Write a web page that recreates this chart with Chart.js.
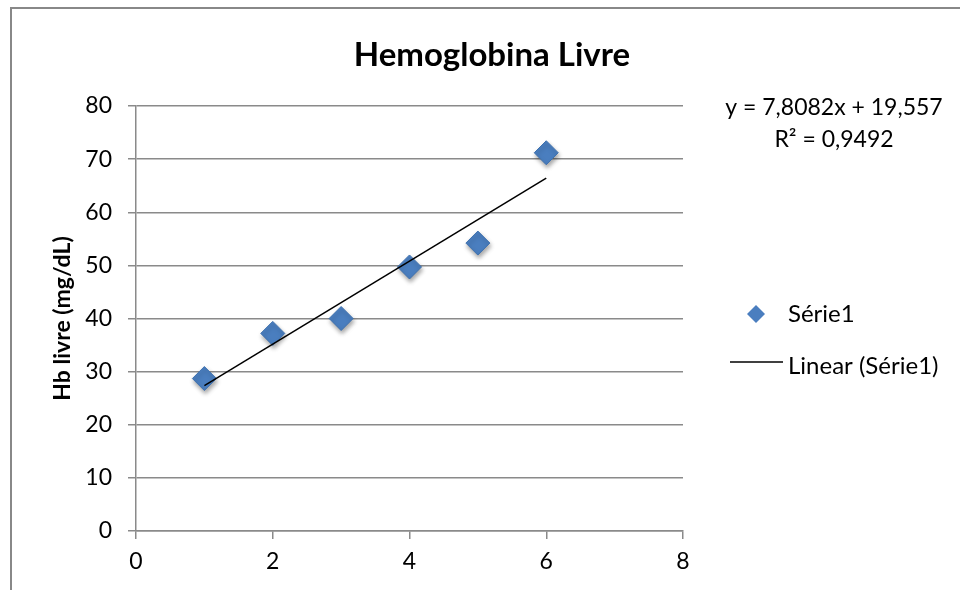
<!DOCTYPE html>
<html>
<head>
<meta charset="utf-8">
<script src="https://cdn.jsdelivr.net/npm/chart.js@4"></script>
<style>
  html, body { margin: 0; padding: 0; background: #fff; }
  #wrap { width: 960px; height: 590px; }
</style>
</head>
<body>
<div id="wrap"><canvas id="hb-chart" width="960" height="590"></canvas></div>
<script>
// data
var xValues = [1, 2, 3, 4, 5, 6];
var hbValues = [28.7, 37.2, 40.0, 49.7, 54.2, 71.2];
var xTicks = [0, 2, 4, 6, 8];
var yTicks = [0, 10, 20, 30, 40, 50, 60, 70, 80];
var trendSlope = 7.8082;
var trendIntercept = 19.557;
var trendText = ['y = 7,8082x + 19,557', 'R\u00b2 = 0,9492'];
var seriesName = 'S\u00e9rie1';
var trendName = 'Linear (S\u00e9rie1)';

var FONT = 'Lato, "Open Sans", sans-serif';
var GRID = '#8a8a8a';
var BLUE = '#4a7ebf';

// builds point list for the scatter series
function getPoints() {
    var pts = [];
    for (var i = 0; i < xValues.length; i++) {
        pts.push({ x: xValues[i], y: hbValues[i] });
    }
    return pts;
}

// trendline from first to last x
function getTrend() {
    var x0 = xValues[0];
    var x1 = xValues[xValues.length - 1];
    return [
        { x: x0, y: trendSlope * x0 + trendIntercept },
        { x: x1, y: trendSlope * x1 + trendIntercept }
    ];
}

// title, frame, equation and legend
var decorations = {
    id: 'decorations',
    beforeDraw: function(chart) {
        var c = chart.ctx;
        c.save();
        c.fillStyle = '#fff';
        c.fillRect(0, 0, chart.width, chart.height);
        c.strokeStyle = '#888';
        c.lineWidth = 2;
        c.beginPath();
        c.moveTo(11, chart.height + 5);
        c.lineTo(11, 8);
        c.lineTo(chart.width + 5, 8);
        c.stroke();
        c.restore();
    },
    afterDraw: function(chart) {
        var c = chart.ctx;
        c.save();
        c.fillStyle = '#000';
        c.textBaseline = 'middle';
        c.textAlign = 'center';
        c.font = 'bold 33px ' + FONT;
        c.fillText('Hemoglobina Livre', 492, 55);

        c.font = '23px ' + FONT;
        c.fillText(trendText[0], 834, 108);
        c.fillText(trendText[1], 834, 140);

        // legend
        c.textAlign = 'left';
        c.fillStyle = BLUE;
        c.beginPath();
        c.moveTo(756, 305);
        c.lineTo(765, 314);
        c.lineTo(756, 323);
        c.lineTo(747, 314);
        c.closePath();
        c.fill();
        c.fillStyle = '#000';
        c.font = '24px ' + FONT;
        c.fillText(seriesName, 788, 314);

        c.strokeStyle = '#000';
        c.lineWidth = 1.5;
        c.beginPath();
        c.moveTo(730, 362);
        c.lineTo(783, 362);
        c.stroke();
        c.fillText(trendName, 788, 366);
        c.restore();
    },
    beforeDatasetDraw: function(chart, args) {
        if (args.index === 0) {
            chart.ctx.save();
            chart.ctx.shadowColor = 'rgba(0,0,0,0.35)';
            chart.ctx.shadowBlur = 4;
            chart.ctx.shadowOffsetX = 1;
            chart.ctx.shadowOffsetY = 3;
        }
    },
    afterDatasetDraw: function(chart, args) {
        if (args.index === 0) {
            chart.ctx.restore();
        }
    }
};

var ctx = document.getElementById('hb-chart').getContext('2d');

var myChart = new Chart(ctx, {
    type: 'scatter',
    data: {
        datasets: [{
            label: seriesName,
            data: getPoints(),
            pointStyle: 'rectRot',
            pointRadius: 12,
            backgroundColor: BLUE,
            borderColor: '#3f72b0',
            borderWidth: 1,
            order: 1
        }, {
            label: trendName,
            type: 'line',
            data: getTrend(),
            borderColor: '#000',
            borderWidth: 1.5,
            pointRadius: 0,
            fill: false,
            order: 0
        }]
    },
    options: {
        responsive: false,
        animation: false,
        layout: { padding: { left: 49, right: 277, top: 106, bottom: 0 } },
        plugins: {
            legend: { display: false },
            title: { display: false },
            tooltip: { enabled: false }
        },
        scales: {
            x: {
                type: 'linear',
                min: 0,
                max: 8,
                afterFit: function(scale) { scale.height = 59; },
                afterBuildTicks: function(scale) {
                    scale.ticks = xTicks.map(function(v) { return { value: v }; });
                },
                grid: {
                    drawOnChartArea: false,
                    drawTicks: true,
                    tickLength: 8,
                    color: GRID,
                    lineWidth: 1.5
                },
                border: { color: GRID, width: 1.5 },
                ticks: {
                    color: '#000',
                    padding: 9,
                    font: { family: FONT, size: 23 }
                }
            },
            y: {
                min: 0,
                max: 80,
                afterFit: function(scale) { scale.width = 87; },
                afterBuildTicks: function(scale) {
                    scale.ticks = yTicks.map(function(v) { return { value: v }; });
                },
                grid: {
                    color: GRID,
                    lineWidth: 1.5,
                    tickLength: 8
                },
                border: { color: GRID, width: 1.5 },
                ticks: {
                    color: '#000',
                    padding: 16,
                    font: { family: FONT, size: 23 }
                },
                title: {
                    display: true,
                    text: 'Hb livre (mg/dL)',
                    color: '#000',
                    padding: 0,
                    font: { family: FONT, size: 23, weight: 'bold' }
                }
            }
        }
    },
    plugins: [decorations]
});
</script>
</body>
</html>
